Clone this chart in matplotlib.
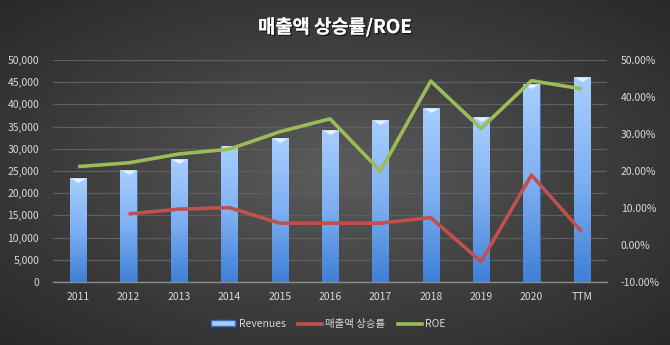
import numpy as np
import matplotlib
matplotlib.use("Agg")
import matplotlib.pyplot as plt
from matplotlib.colors import LinearSegmentedColormap
import matplotlib.patheffects as pe
from matplotlib.lines import Line2D
from matplotlib.patches import Patch

plt.rcParams['font.family'] = ['Noto Sans CJK KR', 'DejaVu Sans']

categories = ['2011', '2012', '2013', '2014', '2015', '2016', '2017', '2018', '2019', '2020', 'TTM']
revenues = [23500, 25200, 27700, 30600, 32400, 34200, 36500, 39100, 37200, 44700, 46200]
rev_growth = [np.nan, 8.4, 9.7, 10.1, 5.9, 5.9, 5.9, 7.4, -4.5, 18.9, 3.6]
roe = [21.2, 22.2, 24.6, 25.9, 30.6, 34.1, 20.0, 44.3, 31.5, 44.4, 42.2]

title = '매출액 상승률/ROE'
legend_labels = ['Revenues', '매출액 상승률', 'ROE']

W, H = 670, 345
fig = plt.figure(figsize=(W / 100, H / 100), dpi=100)

# radial gradient background
bg = fig.add_axes([0, 0, 1, 1], zorder=-10)
yy, xx = np.mgrid[0:1:200j, 0:1:400j]
r = np.sqrt(((xx - 0.5) / 0.75) ** 2 + ((yy - 0.5) / 0.75) ** 2)
bg_cmap = LinearSegmentedColormap.from_list('bg', ['#5c5c5c', '#3e3e3e', '#262626'])
bg.imshow(np.clip(r, 0, 1), cmap=bg_cmap, vmin=0, vmax=1, aspect='auto', extent=[0, 1, 0, 1], origin='lower')
bg.axis('off')

ax = fig.add_axes([53 / W, 1 - 282 / H, (607 - 53) / W, (282 - 60) / H])
ax.patch.set_alpha(0)
x = np.arange(len(categories))
ax.set_yticks(np.arange(0, 50001, 5000))
ax.yaxis.set_major_formatter(matplotlib.ticker.FuncFormatter(lambda v, p: f'{int(v):,}'))
ax.grid(axis='y', color='#5f5f5f', linewidth=0.9)
ax.set_axisbelow(True)
for s in ['top', 'right', 'left']:
    ax.spines[s].set_visible(False)
ax.spines['bottom'].set_color('#8c8c8c')
ax.spines['bottom'].set_linewidth(1.0)
ax.tick_params(axis='both', length=0, colors='#d9d9d9', labelsize=7.5)
ax.tick_params(axis='y', pad=10)
ax.tick_params(axis='x', pad=7)
ax.set_xticks(x)
ax.set_xticklabels(categories)

bars = ax.bar(x, revenues, width=0.32, color='#6fa3ec', edgecolor='#3d6db5', linewidth=0.6, zorder=2)
grad = np.linspace(0, 1, 256).reshape(-1, 1)
bar_cmap = LinearSegmentedColormap.from_list('bar', ['#3f7fd6', '#7fb0f2', '#a8ceff'])
for b in bars:
    bx, by = b.get_x(), b.get_y()
    bw, bh = b.get_width(), b.get_height()
    im = ax.imshow(grad, cmap=bar_cmap, aspect='auto', origin='lower',
                   extent=[bx, bx + bw, by, by + bh], zorder=2.1)
    im.set_clip_path(b)
ax.set_xlim(-0.5, len(categories) - 0.5)
ax.set_ylim(0, 50000)
# top highlight triangles (flat top flush with bar top)
tri = [(-1, 0), (1, 0), (0, -0.6), (-1, 0)]
ax.scatter(x, revenues, marker=tri, s=115, color='#e6f1ff', zorder=2.2, linewidths=0)

ax2 = ax.twinx()
ax2.set_ylim(-10, 50)
ax2.set_yticks(np.arange(-10, 51, 10))
ax2.yaxis.set_major_formatter(matplotlib.ticker.FuncFormatter(lambda v, p: f'{v:.2f}%'))
for s in ['top', 'right', 'left', 'bottom']:
    ax2.spines[s].set_visible(False)
ax2.tick_params(axis='y', length=0, colors='#d9d9d9', labelsize=7.5, pad=10)
ax2.plot(x, rev_growth, color='#c0504d', linewidth=2.6, solid_capstyle='butt', zorder=3)
ax2.plot(x, roe, color='#9bbb59', linewidth=2.6, solid_capstyle='butt', zorder=3)

fig.text(0.5, 1 - 27 / H, title, ha='center', va='center', color='white', fontsize=13.5,
         fontweight='bold',
         path_effects=[pe.withSimplePatchShadow(offset=(1, -1), shadow_rgbFace='black', alpha=0.6), pe.Normal()])

handles = [Patch(facecolor='#a8ceff', edgecolor='#3d6db5'),
           Line2D([], [], color='#c0504d', linewidth=2.6),
           Line2D([], [], color='#9bbb59', linewidth=2.6)]
leg = fig.legend(handles, legend_labels, loc='center', bbox_to_anchor=(0.49, 1 - 324 / H), ncol=3,
                 frameon=False, fontsize=7.5, labelcolor='#d9d9d9', handlelength=2.3,
                 handletextpad=0.3, columnspacing=1.2, handleheight=0.5)

fig.savefig('out.png', dpi=100)
